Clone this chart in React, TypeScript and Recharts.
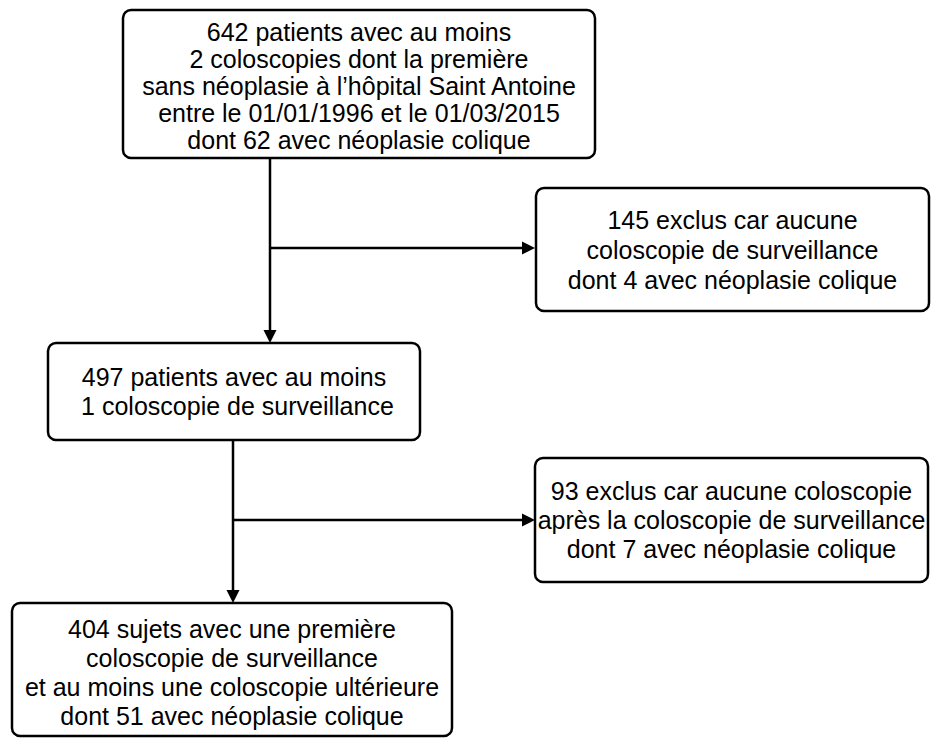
import { ComposedChart, ReferenceArea, ReferenceLine, XAxis, YAxis } from "recharts";

// Diagramme de flux : coordonnées dans le repère de l'image (0..932 x 0..738)
const WIDTH = 932;
const HEIGHT = 738;

const BOX_TEXT: string[][] = [
  [
    "642 patients avec au moins",
    "2 coloscopies dont la première",
    "sans néoplasie à l’hôpital Saint Antoine",
    "entre le 01/01/1996 et le 01/03/2015",
    "dont 62 avec néoplasie colique",
  ],
  ["145 exclus car aucune", "coloscopie de surveillance", "dont 4 avec néoplasie colique"],
  ["497 patients avec au moins", " 1 coloscopie de surveillance"],
  [
    "93 exclus car aucune coloscopie",
    "après la coloscopie de surveillance",
    "dont 7 avec néoplasie colique",
  ],
  [
    "404 sujets avec une première",
    "coloscopie de surveillance",
    "et au moins une coloscopie ultérieure",
    "dont 51 avec néoplasie colique",
  ],
];

// [gauche, droite] et [haut, bas] de chaque boîte
const BOX_X: [number, number][] = [
  [123, 595],
  [536, 929],
  [48, 420],
  [535, 928],
  [12, 452],
];
const BOX_Y: [number, number][] = [
  [10, 158],
  [188, 311],
  [343, 440],
  [458, 582],
  [603, 736],
];

// flèches : [x départ, y départ, x arrivée, y arrivée]
const ARROWS: [number, number, number, number][] = [
  [270, 158, 270, 343],
  [270, 248, 535, 248],
  [233, 440, 233, 603],
  [233, 520, 535, 520],
];

const FONT = "'Liberation Sans', Arial, sans-serif";
// interligne et décalage vertical du texte par boîte (px)
const LINE_GAP = [27, 30, 29, 29, 29];
const TEXT_DY = [2, 0, 0, 0, 3];

type BoxProps = {
  x?: number;
  y?: number;
  width?: number;
  height?: number;
  lines: string[];
  gap: number;
  dy?: number;
};

function BoxShape({ x = 0, y = 0, width = 0, height = 0, lines, gap, dy = 0 }: BoxProps) {
  const cx = x + width / 2;
  const top = y + height / 2 - ((lines.length - 1) * gap) / 2 + dy;
  return (
    <g>
      <rect x={x} y={y} width={width} height={height} rx={8} ry={8} fill="#fff" stroke="#000" strokeWidth={2.5} />
      {lines.map((t, i) => (
        <text
          key={i}
          x={cx}
          y={top + i * gap}
          textAnchor="middle"
          dominantBaseline="central"
          fontSize={25}
          fontFamily={FONT}
          fill="#000"
          style={{ whiteSpace: "pre" }}
        >
          {t}
        </text>
      ))}
    </g>
  );
}

type ArrowProps = { x1?: number; y1?: number; x2?: number; y2?: number };

function ArrowShape({ x1 = 0, y1 = 0, x2 = 0, y2 = 0 }: ArrowProps) {
  const len = Math.hypot(x2 - x1, y2 - y1) || 1;
  const ux = (x2 - x1) / len;
  const uy = (y2 - y1) / len;
  const head = 13;
  const half = 6.5;
  const bx = x2 - ux * head;
  const by = y2 - uy * head;
  const pts = [
    `${x2},${y2}`,
    `${bx - uy * half},${by + ux * half}`,
    `${bx + uy * half},${by - ux * half}`,
  ].join(" ");
  return (
    <g>
      <line x1={x1} y1={y1} x2={bx} y2={by} stroke="#000" strokeWidth={2.5} />
      <polygon points={pts} fill="#000" />
    </g>
  );
}

export default function App() {
  return (
    <div style={{ position: "fixed", left: 0, top: 0, width: WIDTH, height: HEIGHT, background: "#fff" }}>
      <ComposedChart width={WIDTH} height={HEIGHT} data={[]} margin={{ top: 0, right: 0, bottom: 0, left: 0 }}>
        <XAxis type="number" dataKey="x" domain={[0, WIDTH]} hide allowDataOverflow />
        <YAxis type="number" dataKey="y" domain={[0, HEIGHT]} reversed hide allowDataOverflow />
        {ARROWS.map(([ax, ay, bx, by], i) => (
          <ReferenceLine
            key={`a${i}`}
            segment={[
              { x: ax, y: ay },
              { x: bx, y: by },
            ]}
            ifOverflow="visible"
            shape={(p: ArrowProps) => <ArrowShape {...p} />}
          />
        ))}
        {BOX_TEXT.map((lines, i) => (
          <ReferenceArea
            key={`b${i}`}
            x1={BOX_X[i][0]}
            x2={BOX_X[i][1]}
            y1={BOX_Y[i][0]}
            y2={BOX_Y[i][1]}
            ifOverflow="visible"
            shape={(p: BoxProps) => (
              <BoxShape {...p} lines={lines} gap={LINE_GAP[i]} dy={TEXT_DY[i]} />
            )}
          />
        ))}
      </ComposedChart>
    </div>
  );
}
